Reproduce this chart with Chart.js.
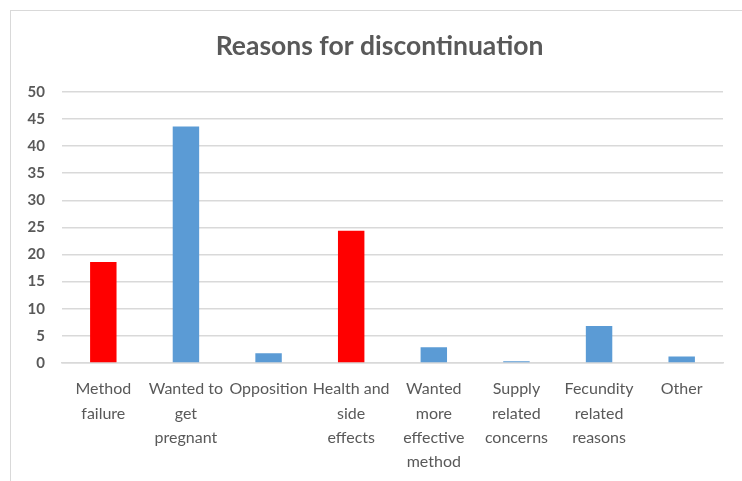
<!DOCTYPE html>
<html>
<head>
<meta charset="utf-8">
<script src="https://cdn.jsdelivr.net/npm/chart.js@4.4.1/dist/chart.umd.min.js"></script>
<style>
html,body{margin:0;padding:0;background:#fff;overflow:hidden;}
#wrap{position:relative;width:742px;height:481px;}
#frame{position:absolute;left:10px;top:10px;width:760px;height:500px;border:1.5px solid #d9d9d9;box-sizing:border-box;}
canvas{position:absolute;left:0;top:0;}
</style>
</head>
<body>
<div id="wrap"><div id="frame"></div><canvas id="c" width="742" height="481"></canvas></div>
<script>
const categories = [
  ["Method","failure"],
  ["Wanted to","get","pregnant"],
  "Opposition",
  ["Health and","side","effects"],
  ["Wanted","more","effective","method"],
  ["Supply","related","concerns"],
  ["Fecundity","related","reasons"],
  "Other"
];
const values = [18.6, 43.6, 1.8, 24.4, 2.9, 0.3, 6.8, 1.2];
const highlighted = [true, false, false, true, false, false, false, false];
const yTicks = [0, 5, 10, 15, 20, 25, 30, 35, 40, 45, 50];
const titleText = "Reasons for discontinuation";

const RED = "#ff0000", BLUE = "#5b9bd5", GREY = "#595959";
const FONT = "Lato, 'Open Sans', sans-serif";

// shift the title block so it is centred on the outer frame, as in the original
const titleShift = {
  id: 'titleShift',
  afterLayout(chart) {
    const t = chart.titleBlock;
    if (t) { t.left += 18; t.right += 18; }
  }
};

new Chart(document.getElementById('c'), {
  type: 'bar',
  data: {
    labels: categories,
    datasets: [{
      data: values,
      backgroundColor: highlighted.map(h => h ? RED : BLUE),
      borderWidth: 0,
      barPercentage: 0.32,
      categoryPercentage: 1.0
    }]
  },
  plugins: [titleShift],
  options: {
    responsive: false,
    animation: false,
    layout: { padding: { left: 0, right: 19, top: 0, bottom: 0 } },
    plugins: {
      legend: { display: false },
      tooltip: { enabled: false },
      title: {
        display: true,
        text: titleText,
        color: GREY,
        font: { family: FONT, size: 26.5, weight: 'bold' },
        padding: { top: 31, bottom: 29 }
      }
    },
    scales: {
      y: {
        min: 0, max: 50,
        afterBuildTicks: s => { s.ticks = yTicks.map(v => ({ value: v })); },
        afterFit: s => { s.width = 62; },
        grid: { color: '#d9d9d9', lineWidth: 1.5, drawTicks: false },
        border: { display: false },
        ticks: {
          color: GREY,
          padding: 17,
          font: { family: FONT, size: 15, weight: 'bold' }
        }
      },
      x: {
        afterFit: s => { s.height = 118; },
        grid: { display: false, drawTicks: false },
        border: { display: true, color: '#d9d9d9', width: 1.5 },
        ticks: {
          color: GREY,
          padding: 14,
          maxRotation: 0,
          autoSkip: false,
          font: { family: FONT, size: 16, lineHeight: 1.52 }
        }
      }
    }
  }
});
</script>
</body>
</html>
